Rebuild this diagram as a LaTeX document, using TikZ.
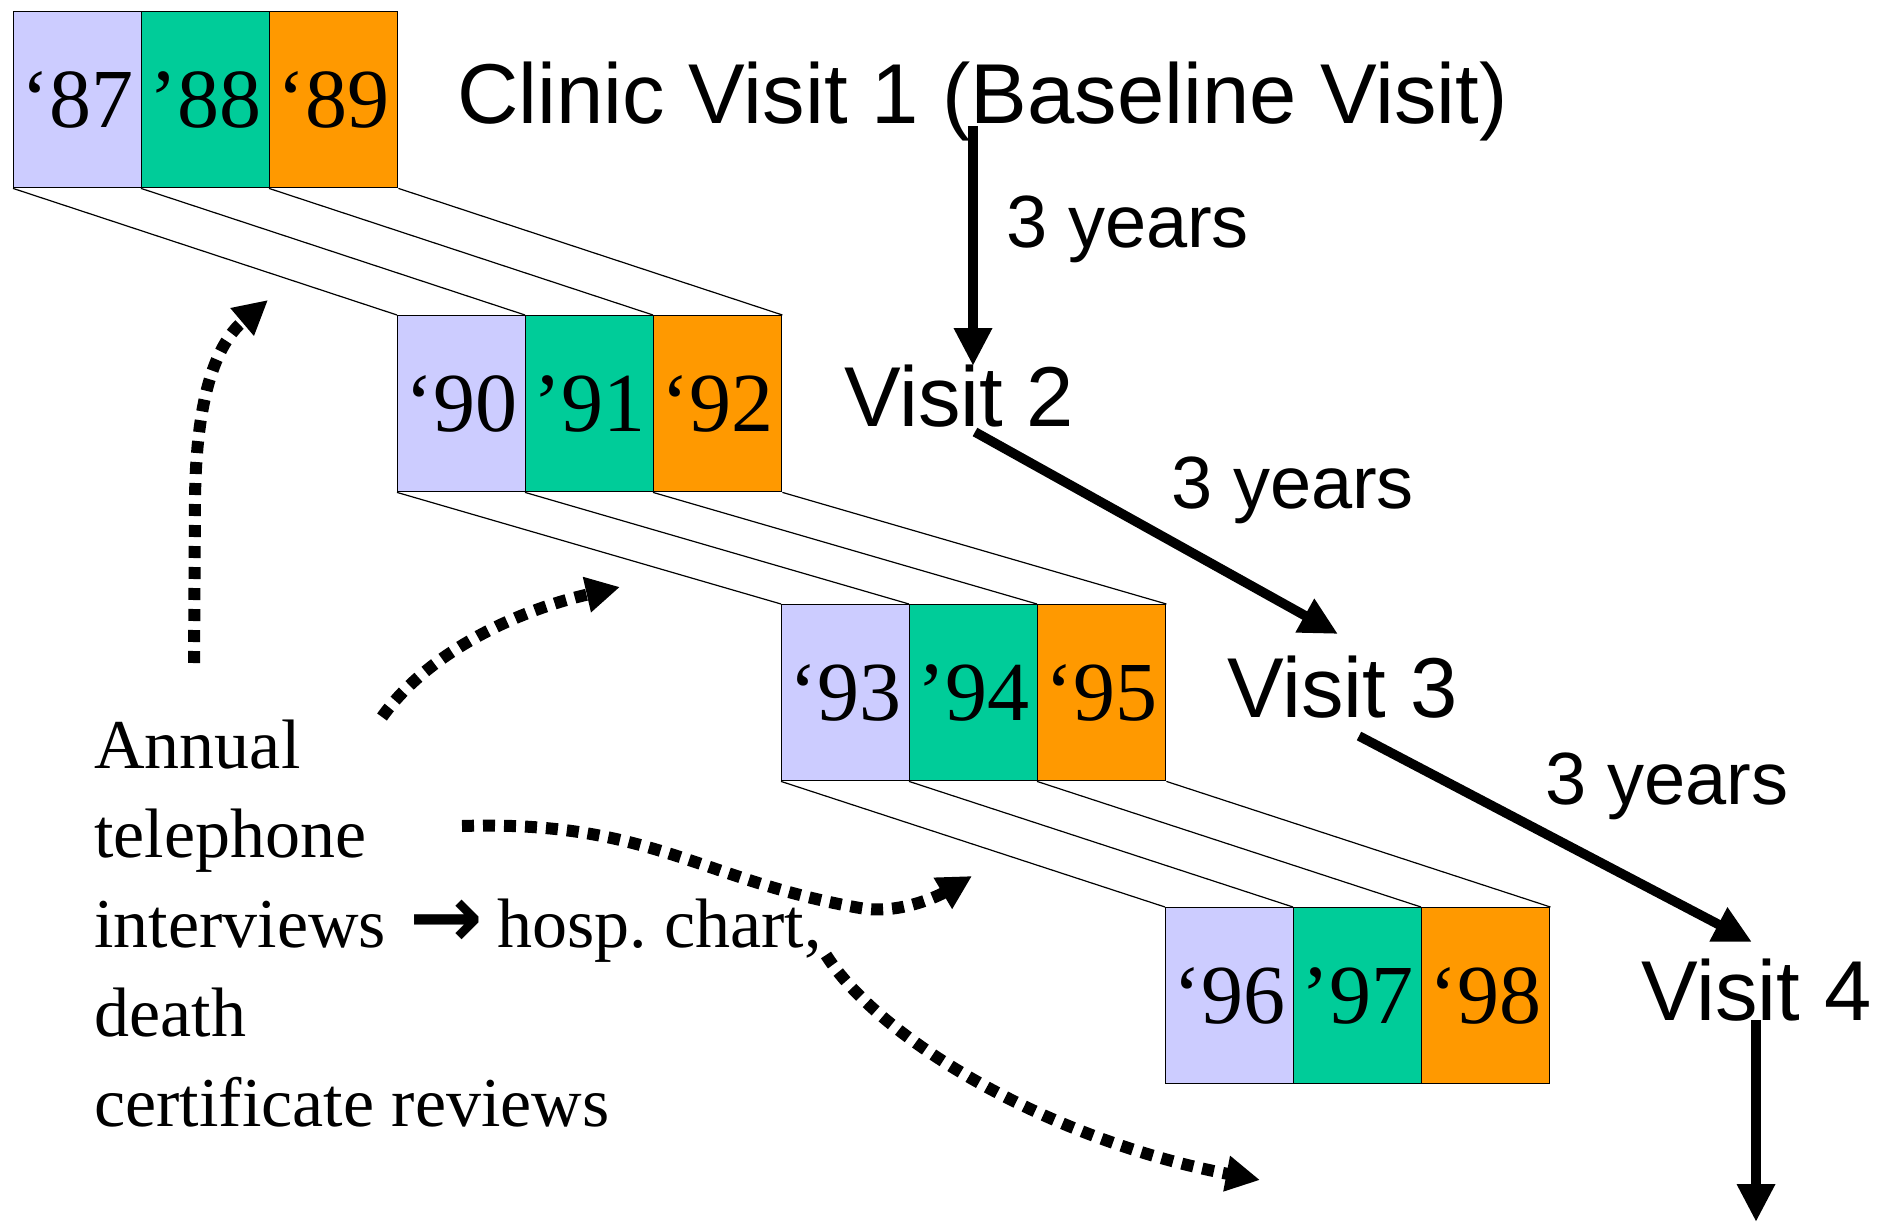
\documentclass[tikz,border=0pt]{standalone}
\usepackage{fontspec}
\setmainfont{Liberation Serif}
\setsansfont{Liberation Sans}
\newfontfamily\arrowfont{DejaVu Sans}
\usetikzlibrary{arrows.meta}
\definecolor{yrA}{HTML}{CCCCFF}
\definecolor{yrB}{HTML}{00CC99}
\definecolor{yrC}{HTML}{FF9900}

\begin{document}
\begin{tikzpicture}[x=0.5pt,y=-0.5pt,
  cell/.style={draw=black, line width=0.7pt, minimum width=64pt, minimum height=88pt,
    inner sep=0pt, anchor=north west, font=\fontsize{42}{42}\selectfont},
  link/.style={line width=0.6pt},
  big/.style={font=\sffamily\fontsize{42.5}{50}\selectfont, anchor=base west, inner sep=0pt},
  yrs/.style={font=\sffamily\fontsize{37}{44}\selectfont, anchor=base west, inner sep=0pt},
  note/.style={font=\fontsize{35}{44.75}\selectfont\frenchspacing, align=left, anchor=base west, inner sep=0pt},
  span/.style={line width=4.8pt, -{Triangle[length=19pt,width=18pt]}},
  calls/.style={line width=6pt, dash pattern=on 6pt off 4.5pt,
    -{Triangle[length=17pt,width=17pt]}}]

\fill[white] (0,0) rectangle (1882,1225);
\useasboundingbox (0,0) rectangle (1882,1225);

% year blocks, three years per row
\foreach \r/\x/\y/\a/\b/\c in {0/13/11/87/88/89, 1/397/315/90/91/92,
                                2/781/604/93/94/95, 3/1165/907/96/97/98}{
  \node[cell, fill=yrA] (r\r-0) at (\x,\y) {‘\a};
  \node[cell, fill=yrB] (r\r-1) at (\x+128,\y) {’\b};
  \node[cell, fill=yrC] (r\r-2) at (\x+256,\y) {‘\c};
}

% slanted edges joining consecutive rows
\foreach \r/\n in {0/1, 1/2, 2/3}{
  \foreach \c in {0,1,2}
    \draw[link] (r\r-\c.south west) -- (r\n-\c.north west);
  \draw[link] (r\r-2.south east) -- (r\n-2.north east);
}

% clinic visits
\node[big] (v1) at (457,124) {Clinic Visit 1 (Baseline Visit)};
\node[yrs] (y1) at (1006,248) {3 years};
\node[big] (v2) at (844,426) {Visit 2};
\node[yrs] (y2) at (1171,508) {3 years};
\node[big] (v3) at (1227,717) {Visit 3};
\node[yrs] (y3) at (1545,804) {3 years};
\node[big] (v4) at (1641,1020) {Visit 4};

\coordinate (s1) at (973,126);  \coordinate (e1) at (973,366);
\coordinate (s2) at (975,432);  \coordinate (e2) at (1338,634);
\coordinate (s3) at (1359,736); \coordinate (e3) at (1752,942);
\coordinate (s4) at (1756,1020);\coordinate (e4) at (1756,1222);
\draw[span] (s1) -- (e1);
\draw[span] (s2) -- (e2);
\draw[span] (s3) -- (e3);
\draw[span] (s4) -- (e4);

% annual follow-up (base anchor sits on the last line)
\node[note] (ann) at (94,1126) {Annual\\telephone\\interviews\hspace{12pt}{\arrowfont\bfseries\fontsize{44}{44}\selectfont →}\hspace{-2pt} hosp. chart,\\death\\certificate reviews};

\coordinate (da) at (194,663); \coordinate (ta) at (268,300);
\coordinate (db) at (382,717); \coordinate (tb) at (620,587);
\coordinate (dc) at (462,826); \coordinate (mc) at (860,908); \coordinate (tc) at (972,876);
\coordinate (dd) at (826,955); \coordinate (td) at (1260,1180);
\draw[calls] (da) -- (195,500) .. controls (196,400) and (215,345) .. (ta);
\draw[calls] (db) .. controls (430,650) and (520,610) .. (tb);
\draw[calls] (dc) .. controls (650,820) and (700,880) .. (mc) .. controls (900,915) and (940,895) .. (tc);
\draw[calls] (dd) .. controls (880,1040) and (1050,1140) .. (td);
\end{tikzpicture}
\end{document}
